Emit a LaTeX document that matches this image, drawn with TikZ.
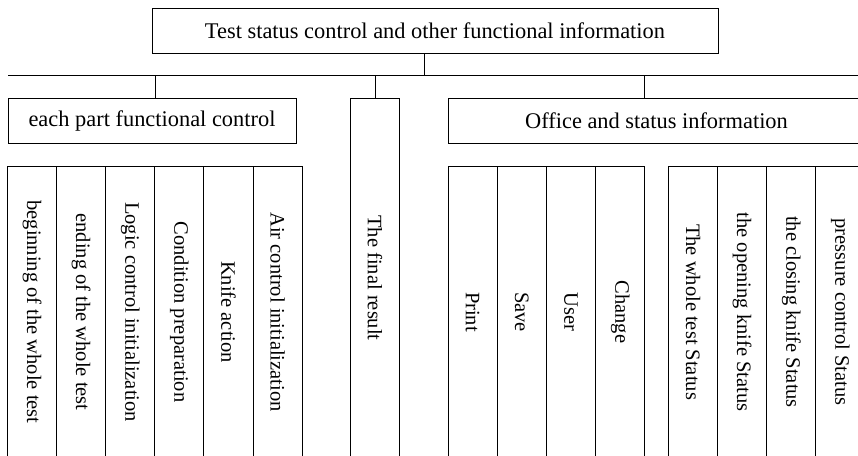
\documentclass[tikz,border=0pt]{standalone}
\usepackage{fontspec}
\setmainfont{Liberation Serif}
\usepackage{tikz}
\usetikzlibrary{positioning, calc}

\tikzset{
	hbox/.style={draw, line width=1pt, inner sep=0pt, font=\fontsize{22.4pt}{26pt}\selectfont},
	vbox/.style={draw, line width=1pt, inner sep=0pt, rotate=-90, minimum height=49.1pt, font=\fontsize{20.5pt}{24pt}\selectfont},
}

\begin{document}
\begin{tikzpicture}[x=1pt, y=-1pt, line width=1pt]
	\useasboundingbox (0,0) rectangle (858,455);
	\clip (0,0) rectangle (858,455);
	\fill[white] (0,0) rectangle (858,455);

	% top level
	\node[hbox, minimum width=566pt, minimum height=45pt] (top) at (435,30.5) {Test status control and other functional information};

	% bus line and drops
	\coordinate (busL) at (8,75);
	\coordinate (busR) at (880,75);
	\coordinate (t1) at (424,75);
	\coordinate (b1) at (155,75);
	\coordinate (b2) at (375,75);
	\coordinate (b3) at (644,75);
	\draw (busL) -- (busR);
	\draw (top.south -| t1) -- (t1);

	% second level
	\node[hbox, minimum width=288pt, minimum height=45pt] (part) at (152,120.5) {each part functional control};
	\node[vbox, minimum width=360pt] (final) at (375,278) {The final result};
	\node[hbox, minimum width=417pt, minimum height=45pt] (office) at (656.5,120.5) {Office and status information};
	\draw (b1) -- (b1 |- part.north);
	\draw (b2) -- (b2 |- final.west);
	\draw (b3) -- (b3 |- office.north);

	% third level
	\foreach \lbl [count=\i] in {beginning of the whole test, ending of the whole test, Logic control initialization, Condition preparation, Knife action, Air control initialization}
		\node[vbox, minimum width=292pt] (L\i) at ({7.5+49.1*(\i-0.5)},312) {\lbl};
	\foreach \lbl [count=\i] in {Print, Save, User, Change}
		\node[vbox, minimum width=292pt] (P\i) at ({448+49.2*(\i-0.5)},312) {\lbl};
	\foreach \lbl [count=\i] in {The whole test Status, the opening knife Status, the closing knife Status, pressure control Status}
		\node[vbox, minimum width=292pt] (S\i) at ({668.5+49.1*(\i-0.5)},312) {\lbl};
\end{tikzpicture}
\end{document}
